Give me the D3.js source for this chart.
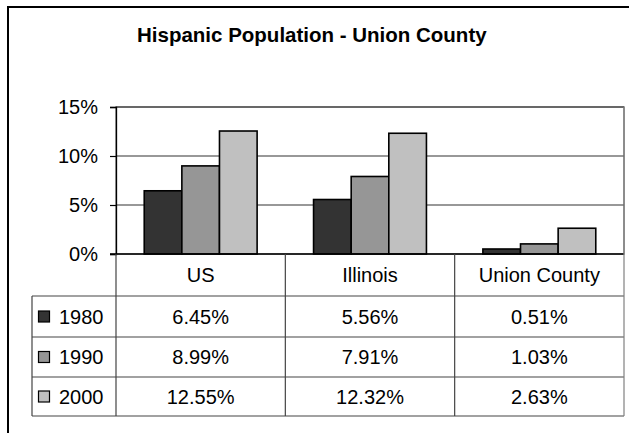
<!DOCTYPE html>
<html><head><meta charset="utf-8">
<script src="https://cdn.jsdelivr.net/npm/d3@7"></script>
<style>body{margin:0;background:#fff}svg{display:block}text{font-family:"Liberation Sans",Arial,sans-serif}</style>
</head><body>
<svg id="c" width="629" height="433"></svg>
<script>
const categories = ["US", "Illinois", "Union County"];
const series = ["1980", "1990", "2000"];
const values1980 = [6.45, 5.56, 0.51];
const values1990 = [8.99, 7.91, 1.03];
const values2000 = [12.55, 12.32, 2.63];
const yTicks = [0, 5, 10, 15];
const colors = ["#333333", "#969696", "#c0c0c0"];
const title = "Hispanic Population - Union County";

const allVals = [values1980, values1990, values2000];
const svg = d3.select("#c");

// outer frame
svg.append("rect").attr("x", 8).attr("y", 7).attr("width", 660).attr("height", 460)
  .attr("fill", "#fff").attr("stroke", "#000").attr("stroke-width", 2);

svg.append("text").attr("x", 137).attr("y", 42).attr("font-size", 20.5).attr("font-weight", "bold")
  .attr("fill", "#000").text(title);

const pLeft = 116, pRight = 624, pTop = 107, pBottom = 254;
const y = d3.scaleLinear().domain([0, 15]).range([pBottom, pTop]);
const x = d3.scaleBand().domain(categories).range([pLeft, pRight]).padding(0);
const xs = d3.scaleBand().domain(series).range([0, x.bandwidth()]).paddingInner(0).paddingOuter(0.75);

// plot area border (gray)
svg.append("rect").attr("x", pLeft).attr("y", pTop).attr("width", pRight - pLeft).attr("height", pBottom - pTop)
  .attr("fill", "none").attr("stroke", "#808080").attr("stroke-width", 1.5);

// gridlines
svg.append("g").selectAll("line").data(yTicks.filter(t => t > 0)).join("line")
  .attr("x1", pLeft).attr("x2", pRight).attr("y1", d => y(d)).attr("y2", d => y(d))
  .attr("stroke", "#333").attr("stroke-width", 1.2);

// bars
series.forEach((s, si) => {
  svg.append("g").selectAll("rect").data(categories).join("rect")
    .attr("x", c => x(c) + xs(s))
    .attr("y", (c, i) => y(allVals[si][i]))
    .attr("width", xs.bandwidth())
    .attr("height", (c, i) => y(0) - y(allVals[si][i]))
    .attr("fill", colors[si]).attr("stroke", "#000").attr("stroke-width", 1.6);
});

// y axis
const yAxis = d3.axisLeft(y).tickValues(yTicks).tickFormat(d => d + "%").tickSize(6).tickPadding(12);
const ga = svg.append("g").attr("transform", `translate(${pLeft},0)`).call(yAxis);
ga.select(".domain").attr("stroke", "#000").attr("stroke-width", 1.3);
ga.selectAll(".tick line").attr("stroke", "#000").attr("stroke-width", 1.2);
ga.selectAll(".tick text").attr("font-size", 20).attr("fill", "#000")
  .attr("font-family", "'Liberation Sans', Arial, sans-serif");

// x axis baseline
svg.append("line").attr("x1", pLeft - 6).attr("x2", pRight).attr("y1", pBottom).attr("y2", pBottom)
  .attr("stroke", "#000").attr("stroke-width", 1.3);

// data table
const rowLines = [296, 337, 377, 416];
const tableLeft = 32;
const tg = svg.append("g").attr("stroke", "#444").attr("stroke-width", 1.2);
rowLines.forEach(yy => tg.append("line").attr("x1", tableLeft).attr("x2", pRight).attr("y1", yy).attr("y2", yy));
tg.append("line").attr("x1", tableLeft).attr("x2", tableLeft).attr("y1", rowLines[0]).attr("y2", rowLines[3]);
categories.forEach(c => tg.append("line").attr("x1", x(c)).attr("x2", x(c)).attr("y1", pBottom).attr("y2", rowLines[3]));
tg.append("line").attr("x1", pRight).attr("x2", pRight).attr("y1", pTop).attr("y2", rowLines[3]).attr("stroke", "#808080");

// category labels
svg.append("g").selectAll("text").data(categories).join("text")
  .attr("x", c => x(c) + x.bandwidth() / 2).attr("y", (pBottom + rowLines[0]) / 2)
  .attr("dy", "0.35em").attr("text-anchor", "middle").attr("font-size", 20).text(c => c);

// rows
series.forEach((s, si) => {
  const yc = (rowLines[si] + rowLines[si + 1]) / 2;
  svg.append("rect").attr("x", 38.5).attr("y", yc - 5.5).attr("width", 11).attr("height", 11)
    .attr("fill", colors[si]).attr("stroke", "#000").attr("stroke-width", 1.2);
  svg.append("text").attr("x", 59).attr("y", yc).attr("dy", "0.35em").attr("font-size", 20).text(s);
  svg.append("g").selectAll("text").data(categories).join("text")
    .attr("x", c => x(c) + x.bandwidth() / 2).attr("y", yc).attr("dy", "0.35em")
    .attr("text-anchor", "middle").attr("font-size", 20)
    .text((c, i) => allVals[si][i].toFixed(2) + "%");
});
</script>
</body></html>
